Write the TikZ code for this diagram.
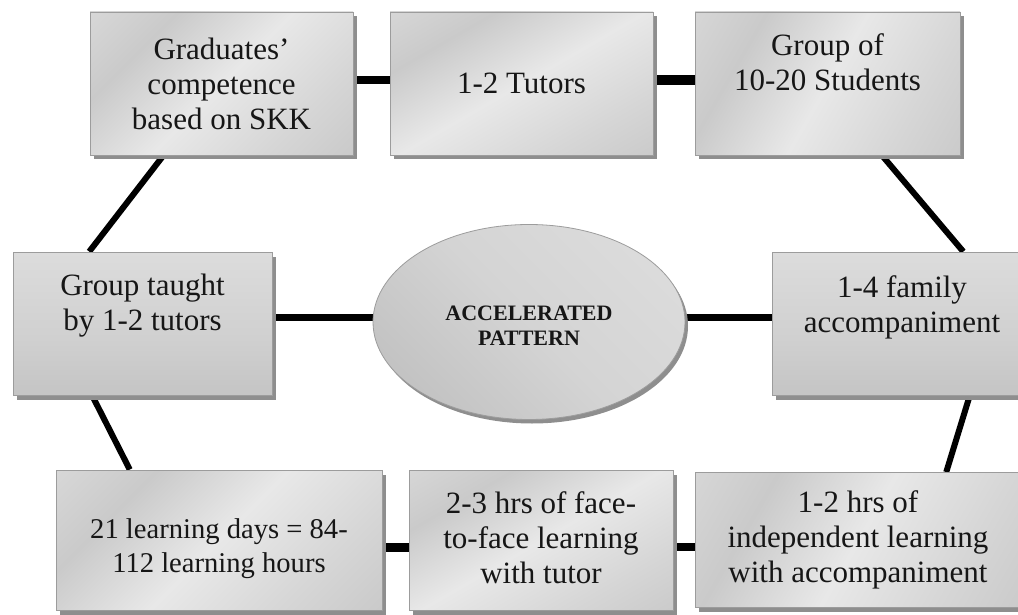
\documentclass[tikz,border=0pt]{standalone}
\usepackage{fontspec}
\setmainfont{Liberation Serif}
\usetikzlibrary{calc,backgrounds,shapes.geometric}
\definecolor{ma}{HTML}{BEBEBE}
\definecolor{mb}{HTML}{D6D6D6}
\definecolor{mc}{HTML}{E8E8E8}
\definecolor{md}{HTML}{CACACA}
\definecolor{me}{HTML}{E4E4E4}
\definecolor{va}{HTML}{B6B6B6}
\definecolor{vb}{HTML}{D0D0D0}
\definecolor{vc}{HTML}{E6E6E6}
\definecolor{ea}{HTML}{B2B2B2}
\definecolor{eb}{HTML}{D4D4D4}
\definecolor{ec}{HTML}{E2E2E2}
\definecolor{edge}{HTML}{9C9C9C}
\definecolor{shadowc}{HTML}{8E8E8E}
\definecolor{txt}{HTML}{161616}
\pgfdeclarehorizontalshading{metal}{100bp}{color(0bp)=(ma); color(30bp)=(mb); color(50bp)=(mc); color(70bp)=(md); color(100bp)=(me)}
\pgfdeclarehorizontalshading{vgr}{100bp}{color(0bp)=(va); color(45bp)=(vb); color(100bp)=(vc)}
\pgfdeclarehorizontalshading{ellsh}{100bp}{color(0bp)=(ea); color(50bp)=(eb); color(100bp)=(ec)}
\begin{document}
\begin{tikzpicture}[x=1pt,y=-1pt,
  card/.style={rectangle, draw=edge, line width=0.8pt, shade, shading=metal, shading angle=#1,
    preaction={fill=shadowc, transform canvas={xshift=3.5pt,yshift=-4.5pt}}},
  card/.default=135,
  vcard/.style={rectangle, draw=edge, line width=0.8pt, shade, shading=vgr, shading angle=90,
    preaction={fill=shadowc, transform canvas={xshift=3.5pt,yshift=-4.5pt}}},
  hub/.style={ellipse, draw=edge, line width=0.8pt, shade, shading=ellsh, shading angle=45,
    minimum width=312pt, minimum height=195pt,
    preaction={fill=shadowc, transform canvas={xshift=3pt,yshift=-4pt}}},
  lbl/.style={align=center, text=txt, inner sep=0pt, font=\fontsize{31}{35}\selectfont},
  slbl/.style={align=center, text=txt, inner sep=0pt, font=\fontsize{28.6}{34}\selectfont},
  hlbl/.style={align=center, text=txt, inner sep=0pt, font=\fontsize{22}{25}\selectfont\bfseries},
  conn/.style={draw=black, line width=#1},
  conn/.default=6pt]
\useasboundingbox (0,0) rectangle (1018,615);

% boxes
\node[card, minimum width=263pt, minimum height=143pt] (g1) at (221.5,83.5) {};
\node[card=120, minimum width=263pt, minimum height=143pt] (g2) at (521.5,83.5) {};
\node[card=150, minimum width=265pt, minimum height=143pt] (g3) at (827.5,83.5) {};
\node[vcard, minimum width=259pt, minimum height=143pt] (gl) at (142.5,323.5) {};
\node[vcard, minimum width=260pt, minimum height=143pt] (gr) at (902,323.5) {};
\node[card=135, minimum width=326pt, minimum height=140pt] (ga) at (219,540) {};
\node[card=120, minimum width=264pt, minimum height=140pt] (gb) at (541,540) {};
\node[card=150, minimum width=326pt, minimum height=135pt] (gc) at (858,540) {};
\node[hub] (ell) at (529,322) {};

% texts
\node[lbl] (t1) at (g1.center) {Graduates’\\competence\\based on SKK};
\node[lbl] (t2) at (g2.center) {1-2 Tutors};
\node[lbl] (t3) at ($(g3.center)+(0,-21)$) {Group of\\10-20 Students};
\node[lbl] (tl) at ($(gl.center)+(0,-18)$) {Group taught\\by 1-2 tutors};
\node[lbl] (tr) at ($(gr.center)+(0,-16)$) {1-4 family\\accompaniment};
\node[slbl] (ta) at ($(ga.center)+(0,9)$) {21 learning days = 84-\\112 learning hours};
\node[lbl] (tb) at ($(gb.center)+(0,-2)$) {2-3 hrs of face-\\to-face learning\\with tutor};
\node[lbl] (tc) at ($(gc.center)+(0,0)$) {1-2 hrs of\\independent learning\\with accompaniment};
\node[hlbl] (th) at ($(ell.center)+(0,4)$) {ACCELERATED\\PATTERN};

% connectors
\coordinate (mL) at ($(ell.west)+(6,-5)$);
\coordinate (mR) at ($(ell.east)+(-6,-5)$);
\begin{scope}[on background layer]
  \draw[conn=8pt] ($(g1.east)+(0,-3)$) -- ($(g2.west)+(0,-3)$);
  \draw[conn=10pt] ($(g2.east)+(0,-3)$) -- ($(g3.west)+(0,-3)$);
  \draw[conn] ($(g1.south west)!0.28!(g1.south east)$) -- ($(gl.north west)!0.295!(gl.north east)$);
  \draw[conn] ($(g3.south west)!0.705!(g3.south east)$) -- ($(gr.north west)!0.735!(gr.north east)$);
  \draw[conn] ($(gl.south west)!0.306!(gl.south east)$) -- ($(ga.north west)!0.227!(ga.north east)$);
  \draw[conn] ($(gr.south west)!0.76!(gr.south east)$) -- ($(gc.north west)!0.77!(gc.north east)$);
  \draw[conn=7pt] (gl.east |- mL) -- (mL);
  \draw[conn=7pt] (mR) -- (gr.west |- mR);
  \draw[conn=9pt] ($(ga.east)+(0,7)$) -- ($(gb.west)+(0,7)$);
  \draw[conn=8pt] ($(gb.east)+(0,7)$) -- ($(gc.west)+(0,7)$);
\end{scope}
\end{tikzpicture}
\end{document}
